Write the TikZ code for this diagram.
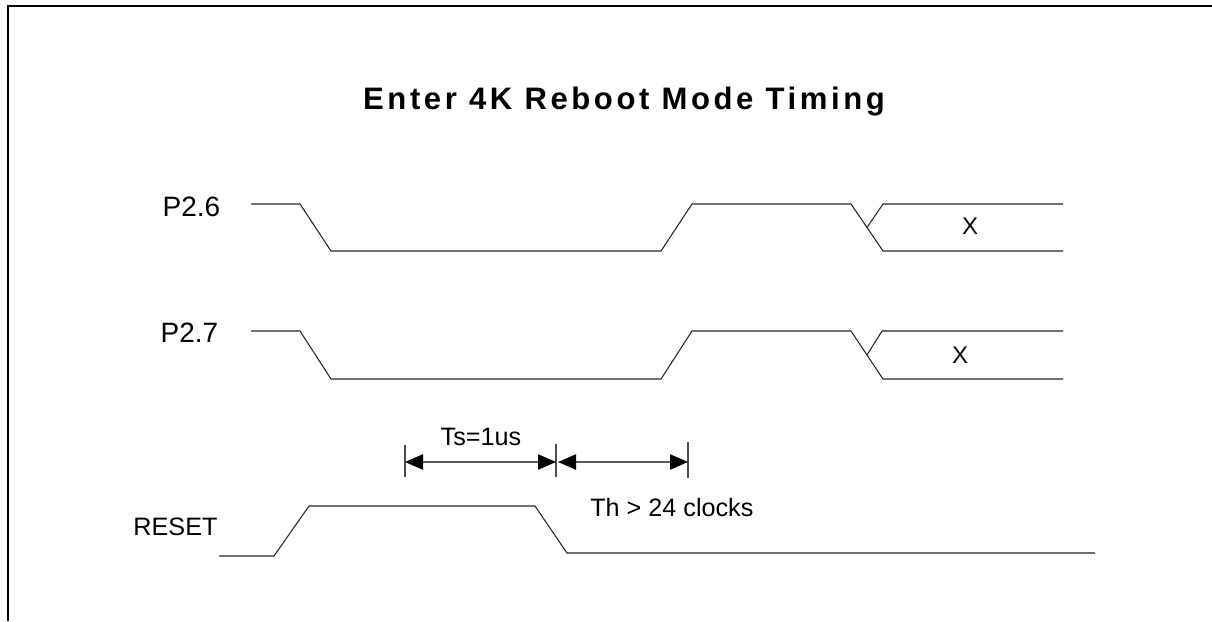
\documentclass[tikz,border=0pt]{standalone}
\usepackage{fontspec}
\setmainfont{Liberation Sans}
\newfontfamily\titlefont[LetterSpace=11.5]{Liberation Sans Bold}
\usetikzlibrary{arrows.meta,calc}
\begin{document}
\begin{tikzpicture}[x=0.75pt,y=-0.75pt,
  frame/.style={line width=1.5pt,black},
  wave/.style={line width=0.8pt,black!85,line join=miter},
  tick/.style={line width=0.8pt,black!70},
  dim/.style={line width=0.9pt,black!65,{Triangle[length=13.5pt,width=11.5pt,black]}-{Triangle[length=13.5pt,width=11.5pt,black]}},
  lbl/.style={inner sep=0pt,font=\fontsize{18.9pt}{20pt}\selectfont},
  siglbl/.style={inner sep=0pt,font=\fontsize{21pt}{22pt}\selectfont},
  xlbl/.style={inner sep=0pt,font=\fontsize{18pt}{20pt}\selectfont}]
\useasboundingbox (0,0) rectangle (1212,621);
\fill[white] (0,0) rectangle (1212,621);
% frame
\draw[frame] (7.5,621) -- (7.5,5.5) -- (1212,5.5);
% title
\node[inner sep=0pt,anchor=base,font=\titlefont\fontsize{23.3pt}{25pt}\selectfont] (title) at (624,109) {Enter 4K Reboot Mode Timing};
% P2.6
\node[siglbl] (p26) at (191.5,207) {P2.6};
\coordinate (a0) at (251,204);
\coordinate (a1) at (300,204);
\coordinate (a2) at (331,251);
\coordinate (a3) at (661,251);
\coordinate (a4) at (692,204);
\coordinate (a5) at (851,204);
\coordinate (a6) at (883,251);
\coordinate (a7) at (1063,251);
\coordinate (a8) at (883,204);
\coordinate (a9) at (1063,204);
\draw[wave] (a0) -- (a1) -- (a2) -- (a3) -- (a4) -- (a5) -- (a6) -- (a7);
\draw[wave] ($(a5)!0.5!(a6)$) -- (a8) -- (a9);
\node[xlbl] (x26) at (970,226) {X};
% P2.7
\node[siglbl] (p27) at (189.5,333) {P2.7};
\coordinate (b0) at (251,331);
\coordinate (b1) at (300,331);
\coordinate (b2) at (331,379);
\coordinate (b3) at (661,379);
\coordinate (b4) at (692,331);
\coordinate (b5) at (851,331);
\coordinate (b6) at (883,379);
\coordinate (b7) at (1063,379);
\coordinate (b8) at (882,331);
\coordinate (b9) at (1063,331);
\draw[wave] (b0) -- (b1) -- (b2) -- (b3) -- (b4) -- (b5) -- (b6) -- (b7);
\draw[wave] ($(b5)!0.5!(b6)$) -- (b8) -- (b9);
\node[xlbl] (x27) at (960,355) {X};
% RESET
\node[lbl] (rst) at (175.5,527) {RESET};
\coordinate (r0) at (219,556);
\coordinate (r1) at (274,556);
\coordinate (r2) at (309,506);
\coordinate (r3) at (535,506);
\coordinate (r4) at (567,553);
\coordinate (r5) at (1095,553);
\draw[wave] (r0) -- (r1) -- (r2) -- (r3) -- (r4) -- (r5);
% timing dimensions
\coordinate (t1a) at (405,445); \coordinate (t1b) at (405,477);
\coordinate (t2a) at (556,444); \coordinate (t2b) at (556,477);
\coordinate (t3a) at (688,442); \coordinate (t3b) at (688,478);
\draw[tick] (t1a) -- (t1b);
\draw[tick] (t2a) -- (t2b);
\draw[tick] (t3a) -- (t3b);
\coordinate (s1) at (405,462); \coordinate (s2) at (556,462);
\coordinate (h1) at (558,462); \coordinate (h2) at (688,462);
\draw[dim] (s1) -- (s2);
\draw[dim] (h1) -- (h2);
\node[lbl] (ts) at (481,437) {Ts=1us};
\node[lbl,anchor=west] (th) at (590,507) {Th > 24 clocks};
\end{tikzpicture}
\end{document}
